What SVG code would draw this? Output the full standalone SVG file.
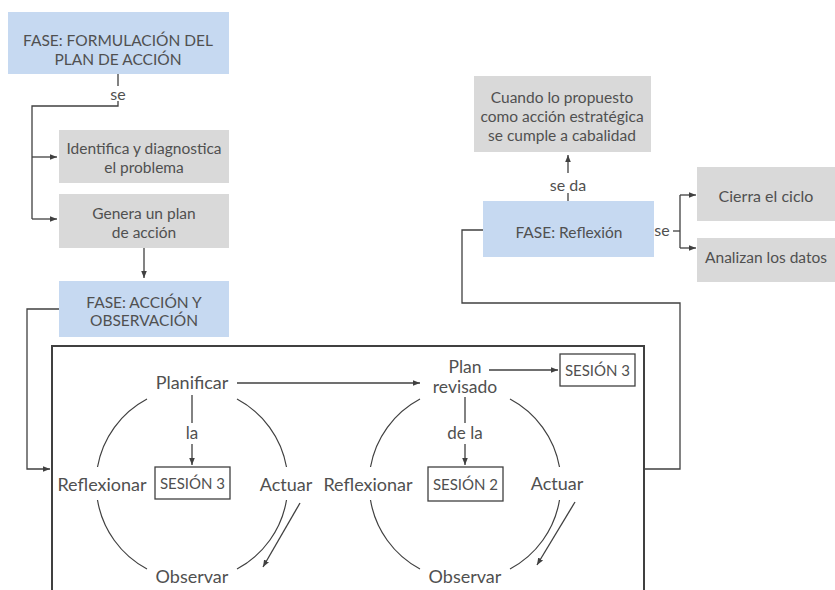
<svg xmlns="http://www.w3.org/2000/svg" width="835" height="590" viewBox="0 0 835 590">
<style>
text{font-family:Lato,"Open Sans","Liberation Sans",sans-serif;font-size:15.5px;fill:#505050;text-anchor:middle}
.big{font-size:18px}
.lbl{font-size:17px}
.ses{font-size:15px}
.blue{fill:#c6d9f1}
.gray{fill:#d9d9d9}
.ln{fill:none;stroke:#404040;stroke-width:1.3}
.arc{fill:none;stroke:#404040;stroke-width:1.2}
.frame{fill:none;stroke:#404040;stroke-width:2}
.sb{fill:#fff;stroke:#404040;stroke-width:1.3}
</style>
<defs>
<marker id="ah" viewBox="0 0 10 10" refX="10" refY="5" markerWidth="7" markerHeight="7" orient="auto" markerUnits="userSpaceOnUse">
<path d="M0,1 L10,5 L0,9 z" fill="#404040"/>
</marker>
</defs>
<rect width="835" height="590" fill="#fff"/>

<g id="frame"><rect class="frame" x="52" y="346" width="592" height="260"/></g>

<g id="connectors">
<path class="ln" d="M118,74 V86 M118,101 V106 H32 V219"/>
<path class="ln" d="M32,157 H57" marker-end="url(#ah)"/>
<path class="ln" d="M32,219 H57" marker-end="url(#ah)"/>
<path class="ln" d="M144,248 V278" marker-end="url(#ah)"/>
<path class="ln" d="M59,309 H27 V469 H50" marker-end="url(#ah)"/>
<path class="ln" d="M483,230 H462 V303 H680 V469 H644"/>
<path class="ln" d="M568,201 V193"/>
<path class="ln" d="M568,173 V155" marker-end="url(#ah)"/>
<path class="ln" d="M673,231 H680"/>
<path class="ln" d="M680,195 V248"/>
<path class="ln" d="M680,195 H696" marker-end="url(#ah)"/>
<path class="ln" d="M680,248 H696" marker-end="url(#ah)"/>
<path class="ln" d="M237,383 H420" marker-end="url(#ah)"/>
<path class="ln" d="M489,370 H558" marker-end="url(#ah)"/>
<path class="ln" d="M192,395 V423 M192,444 V465" marker-end="url(#ah)"/>
<path class="ln" d="M465,397 V423 M465,444 V465" marker-end="url(#ah)"/>
<path class="ln" d="M300,503 L263,567" marker-end="url(#ah)"/>
<path class="ln" d="M575,502 L537,565" marker-end="url(#ah)"/>
</g>

<g id="cycle1">
<path class="arc" d="M147,399 A96,96 0 0 0 97.5,467"/>
<path class="arc" d="M237,399 A96,96 0 0 1 286.5,467"/>
<path class="arc" d="M97.5,500 A96,96 0 0 0 147,569"/>
<path class="arc" d="M286.5,500 A96,96 0 0 1 237,569"/>
</g>
<g id="cycle2">
<path class="arc" d="M420,399 A96,96 0 0 0 370.5,467"/>
<path class="arc" d="M510,399 A96,96 0 0 1 559.5,467"/>
<path class="arc" d="M370.5,500 A96,96 0 0 0 420,569"/>
<path class="arc" d="M559.5,500 A96,96 0 0 1 510,569"/>
</g>

<g id="n-formulacion"><rect class="blue" x="8" y="12" width="221" height="62"/>
<text x="118" y="46">FASE: FORMULACIÓN DEL</text><text x="118" y="65">PLAN DE ACCIÓN</text></g>
<text x="118" y="100" style="font-size:16px">se</text>
<g id="n-identifica"><rect class="gray" x="59" y="130" width="170" height="53"/>
<text x="144" y="154">Identifica y diagnostica</text><text x="144" y="173">el problema</text></g>
<g id="n-genera"><rect class="gray" x="59" y="194" width="170" height="54"/>
<text x="144" y="219">Genera un plan</text><text x="144" y="238">de acción</text></g>
<g id="n-accion"><rect class="blue" x="59" y="281" width="170" height="56"/>
<text x="144" y="308">FASE: ACCIÓN Y</text><text x="144" y="326">OBSERVACIÓN</text></g>

<g id="n-cuando"><rect class="gray" x="474" y="76" width="177" height="76"/>
<text x="562" y="103">Cuando lo propuesto</text><text x="562" y="122">como acción estratégica</text><text x="562" y="141">se cumple a cabalidad</text></g>
<text x="568" y="191" style="font-size:16px">se da</text>
<g id="n-reflexion"><rect class="blue" x="483" y="201" width="171" height="56"/>
<text x="569" y="238">FASE: Reflexión</text></g>
<text x="662" y="236" style="font-size:16px">se</text>
<g id="n-cierra"><rect class="gray" x="697" y="167" width="138" height="54"/>
<text x="766" y="202" style="font-size:16px">Cierra el ciclo</text></g>
<g id="n-analizan"><rect class="gray" x="697" y="238" width="138" height="44"/>
<text x="766" y="263">Analizan los datos</text></g>

<g id="c1-labels">
<text x="192" y="389" class="big">Planificar</text>
<text x="192" y="439" class="lbl">la</text>
<text x="102" y="491" class="big">Reflexionar</text>
<text x="286" y="491" class="big">Actuar</text>
<text x="192" y="583" class="big">Observar</text>
</g>
<g id="n-sesion3a"><rect class="sb" x="155" y="467" width="75" height="32"/>
<text x="192.5" y="488.5" class="ses">SESIÓN 3</text></g>

<g id="c2-labels">
<text x="465" y="373" style="font-size:17.5px">Plan</text>
<text x="465" y="393" style="font-size:17.5px">revisado</text>
<text x="465" y="439" class="lbl">de la</text>
<text x="368" y="491" class="big">Reflexionar</text>
<text x="557" y="490" class="big">Actuar</text>
<text x="465" y="583" class="big">Observar</text>
</g>
<g id="n-sesion2"><rect class="sb" x="428" y="467" width="75" height="34"/>
<text x="465.5" y="489.5" class="ses">SESIÓN 2</text></g>
<g id="n-sesion3b"><rect class="sb" x="560" y="354" width="75" height="32"/>
<text x="597.5" y="375.5" class="ses">SESIÓN 3</text></g>
</svg>
